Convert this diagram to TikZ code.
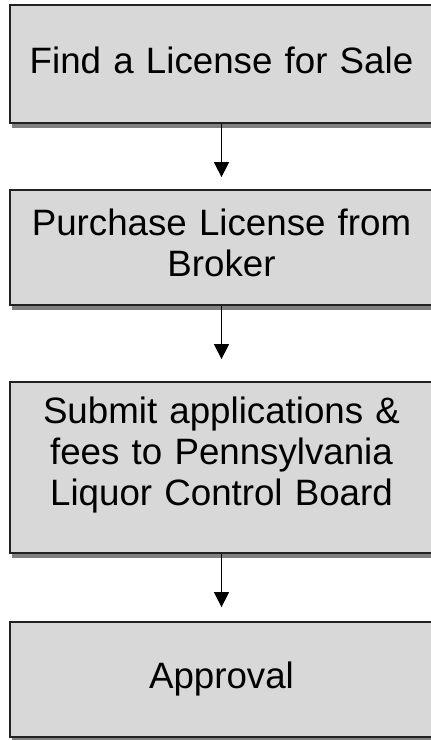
\documentclass[tikz,border=0pt]{standalone}
\usepackage{fontspec}
\setmainfont{Liberation Sans}
\usetikzlibrary{arrows.meta,shadows}
\definecolor{boxfill}{HTML}{D8D8D8}
\definecolor{boxedge}{HTML}{222222}
\tikzset{
	stage/.style={rectangle, draw=boxedge, line width=1.8pt, fill=boxfill,
		minimum width=423pt, text width=400pt, align=center, inner sep=0pt,
		font=\fontsize{36.7}{41}\selectfont,
		drop shadow={shadow xshift=2pt, shadow yshift=-5pt, fill=black!50, opacity=1}},
}
\begin{document}
\begin{tikzpicture}[x=1pt,y=-1pt,shorten >=12pt,line width=1.5pt,-{Triangle[length=15pt,width=15pt]}]
	\useasboundingbox (0,0) rectangle (431,740);
	\node (find)	at (221.5,  64.0)	[stage, minimum height=118pt, text depth=8pt]	{Find a License for Sale};
	\node (buy)	at (221.5, 247.5)	[stage, minimum height=115pt, text depth=51pt]	{Purchase License from\\Broker};
	\node (submit)	at (221.5, 467.5)	[stage, minimum height=171pt, text depth=114pt]	{Submit applications \&\\fees to Pennsylvania\\Liquor Control Board};
	\node (approve)	at (221.5, 679.5)	[stage, minimum height=115pt]	{Approval};
	\draw (find) -- (buy);
	\draw[shorten >=22pt] (buy) -- (submit);
	\draw[shorten >=14pt] (submit) -- (approve);
\end{tikzpicture}
\end{document}
